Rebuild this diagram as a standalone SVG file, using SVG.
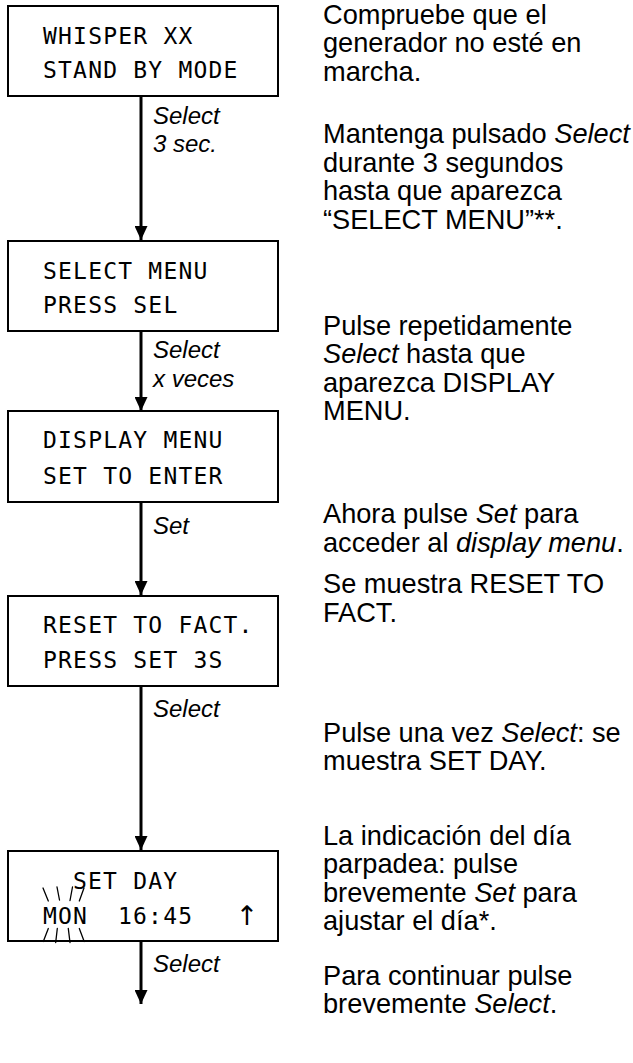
<svg xmlns="http://www.w3.org/2000/svg" width="633" height="1063" viewBox="0 0 633 1063">
  <style>
    .box { fill: #ffffff; stroke: #000000; stroke-width: 2; }
    .lcd { font-family: "DejaVu Sans Mono", "Liberation Mono", monospace; font-size: 23px; letter-spacing: 1.2px; fill: #000000; }
    .sym { font-family: "DejaVu Sans", sans-serif; font-size: 27px; fill: #000000; }
    .lbl { font-family: "Liberation Sans", Arial, sans-serif; font-size: 24px; font-style: italic; fill: #000000; }
    .note { font-family: "Liberation Sans", Arial, sans-serif; font-size: 27.2px; fill: #000000; }
    .note tspan.i { font-style: italic; }
    .wire { stroke: #000000; stroke-width: 3; fill: none; }
    .ray { stroke: #000000; stroke-width: 1.3; fill: none; stroke-linecap: round; }
  </style>
  <defs>
    <marker id="head" viewBox="0 0 14 13" refX="14" refY="6.5" markerWidth="14" markerHeight="13" markerUnits="userSpaceOnUse" orient="auto">
      <path d="M0,0 L14,6.5 L0,13 Z" fill="#000000"/>
    </marker>
  </defs>

  <rect width="633" height="1063" fill="#ffffff"/>

  <!-- connectors between display states -->
  <g id="connectors">
    <line class="wire" x1="141" y1="96" x2="141" y2="240" marker-end="url(#head)"/>
    <line class="wire" x1="141" y1="331" x2="141" y2="411" marker-end="url(#head)"/>
    <line class="wire" x1="141" y1="502" x2="141" y2="595" marker-end="url(#head)"/>
    <line class="wire" x1="141" y1="686" x2="141" y2="850" marker-end="url(#head)"/>
    <line class="wire" x1="141" y1="941" x2="141" y2="1004" marker-end="url(#head)"/>
    <text class="lbl" x="153" y="124">Select</text>
    <text class="lbl" x="153" y="152">3 sec.</text>
    <text class="lbl" x="153" y="358">Select</text>
    <text class="lbl" x="153" y="387">x veces</text>
    <text class="lbl" x="153" y="534">Set</text>
    <text class="lbl" x="153" y="717">Select</text>
    <text class="lbl" x="153" y="972">Select</text>
  </g>

  <!-- display states -->
  <g id="standby">
    <rect class="box" x="8" y="6" width="270" height="90"/>
    <text class="lcd" x="43" y="44">WHISPER XX</text>
    <text class="lcd" x="43" y="78">STAND BY MODE</text>
  </g>

  <g id="select-menu">
    <rect class="box" x="8" y="241" width="270" height="90"/>
    <text class="lcd" x="43" y="279">SELECT MENU</text>
    <text class="lcd" x="43" y="313">PRESS SEL</text>
  </g>

  <g id="display-menu">
    <rect class="box" x="8" y="411" width="270" height="91"/>
    <text class="lcd" x="43" y="448">DISPLAY MENU</text>
    <text class="lcd" x="43" y="484">SET TO ENTER</text>
  </g>

  <g id="reset-fact">
    <rect class="box" x="8" y="596" width="270" height="90"/>
    <text class="lcd" x="43" y="633">RESET TO FACT.</text>
    <text class="lcd" x="43" y="668">PRESS SET 3S</text>
  </g>

  <g id="set-day">
    <rect class="box" x="8" y="851" width="270" height="90"/>
    <text class="lcd" x="73" y="889">SET DAY</text>
    <text class="lcd" x="43" y="924">MON</text>
    <text class="lcd" x="118" y="924">16:45</text>
    <text class="sym" x="247" y="925" text-anchor="middle">↑</text>
    <!-- blink marks around the day field -->
    <line class="ray" x1="43" y1="888" x2="48.3" y2="901"/>
    <line class="ray" x1="57" y1="887" x2="59.5" y2="900"/>
    <line class="ray" x1="72.5" y1="887" x2="70" y2="900.5"/>
    <line class="ray" x1="84" y1="888" x2="79.3" y2="901"/>
    <line class="ray" x1="48.3" y1="928.5" x2="43.3" y2="941.5"/>
    <line class="ray" x1="57.3" y1="928.5" x2="55.7" y2="942.5"/>
    <line class="ray" x1="68.3" y1="928.5" x2="70" y2="942.5"/>
    <line class="ray" x1="79.3" y1="928.5" x2="84.2" y2="941.5"/>
  </g>

  <!-- step descriptions -->
  <g id="notes" class="note">
    <text x="323" y="24">Compruebe que el</text>
    <text x="323" y="52">generador no esté en</text>
    <text x="323" y="80.5">marcha.</text>

    <text x="323" y="143">Mantenga pulsado <tspan class="i">Select</tspan></text>
    <text x="323" y="171.5">durante 3 segundos</text>
    <text x="323" y="200">hasta que aparezca</text>
    <text x="323" y="228.5">“SELECT MENU”**.</text>

    <text x="323" y="335">Pulse repetidamente</text>
    <text x="323" y="363"><tspan class="i">Select</tspan> hasta que</text>
    <text x="323" y="392">aparezca DISPLAY</text>
    <text x="323" y="420">MENU.</text>

    <text x="323" y="523">Ahora pulse <tspan class="i">Set</tspan> para</text>
    <text x="323" y="552">acceder al <tspan class="i">display menu</tspan>.</text>

    <text x="323" y="593">Se muestra RESET TO</text>
    <text x="323" y="622">FACT.</text>

    <text x="323" y="742">Pulse una vez <tspan class="i">Select</tspan>: se</text>
    <text x="323" y="770">muestra SET DAY.</text>

    <text x="323" y="845">La indicación del día</text>
    <text x="323" y="873">parpadea: pulse</text>
    <text x="323" y="902">brevemente <tspan class="i">Set</tspan> para</text>
    <text x="323" y="930">ajustar el día*.</text>

    <text x="323" y="985">Para continuar pulse</text>
    <text x="323" y="1013">brevemente <tspan class="i">Select</tspan>.</text>
  </g>
</svg>
